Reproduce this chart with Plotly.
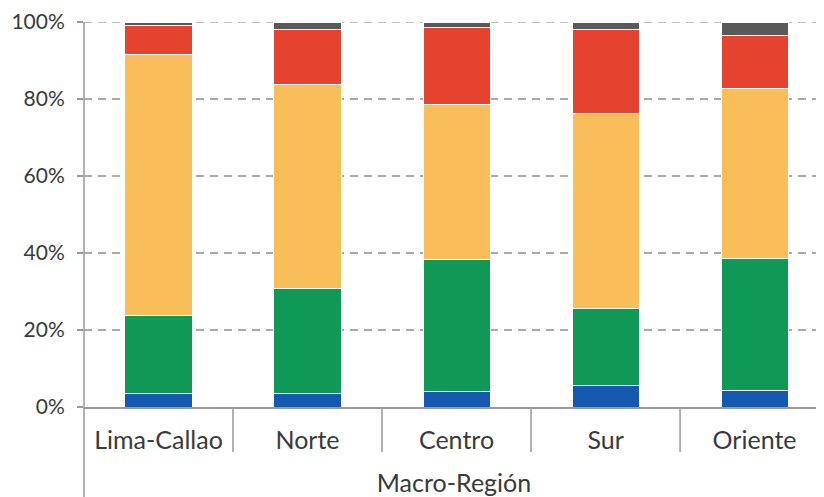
import plotly.graph_objects as go

categories = ["Lima-Callao", "Norte", "Centro", "Sur", "Oriente"]
blue = [3.6, 3.6, 4.1, 5.6, 4.4]
green = [20.1, 27.2, 34.1, 19.9, 34.2]
yellow = [67.9, 52.9, 40.5, 50.8, 44.2]
red = [7.5, 14.3, 19.8, 21.8, 13.6]
gray = [0.9, 2.0, 1.5, 1.9, 3.6]
y_ticks = [0, 20, 40, 60, 80, 100]
y_tick_labels = ["0%", "20%", "40%", "60%", "80%", "100%"]
x_title = "Macro-Región"

series = [
    (blue, "#1558B0"),
    (green, "#109856"),
    (yellow, "#F9BE5A"),
    (red, "#E5432F"),
    (gray, "#595959"),
]

FONT = "Lato, sans-serif"
TXT = "#3a3a3a"

fig = go.Figure()
for vals, col in series:
    fig.add_trace(go.Bar(
        x=categories, y=vals, marker=dict(color=col, line=dict(color="white", width=1)),
        width=0.45, showlegend=False,
    ))

shapes = []
for i in range(len(categories) - 1):
    shapes.append(dict(type="line", xref="x", yref="paper", x0=i + 0.5, x1=i + 0.5,
                       y0=0, y1=-0.117, line=dict(color="#999999", width=1.5)))
shapes.append(dict(type="line", xref="paper", yref="paper", x0=0, x1=0,
                   y0=-0.25, y1=1, line=dict(color="#999999", width=1.5)))
shapes.append(dict(type="line", xref="paper", yref="y", x0=0, x1=1,
                   y0=y_ticks[-1], y1=y_ticks[-1], layer="below",
                   line=dict(color="#aaaaaa", width=1.5, dash="8px,6px")))

fig.update_layout(
    barmode="stack",
    width=824, height=497,
    margin=dict(l=76, r=8, t=14, b=98),
    paper_bgcolor="white", plot_bgcolor="white",
    font=dict(family=FONT, color=TXT, size=21),
    shapes=shapes,
)
fig.update_xaxes(
    range=[-0.5, 4.466], showline=True, linecolor="#999999", linewidth=1.5,
    ticks="", automargin=False, ticklabelstandoff=10,
    tickfont=dict(size=25, family=FONT, color=TXT),
    title=dict(text=x_title, standoff=22, font=dict(size=25, family=FONT, color=TXT)),
)
fig.update_yaxes(
    range=[0, 100], tickvals=y_ticks, ticktext=y_tick_labels, automargin=False,
    ticklabeloverflow="allow",
    showgrid=True, gridcolor="#aaaaaa", gridwidth=1.5, griddash="8px,6px",
    ticks="outside", ticklen=6, tickcolor="#999999", tickwidth=1.5,
    showline=False, zeroline=False,
    tickfont=dict(size=21, family=FONT, color=TXT), ticklabelstandoff=8,
)

fig.write_html("out.html")
